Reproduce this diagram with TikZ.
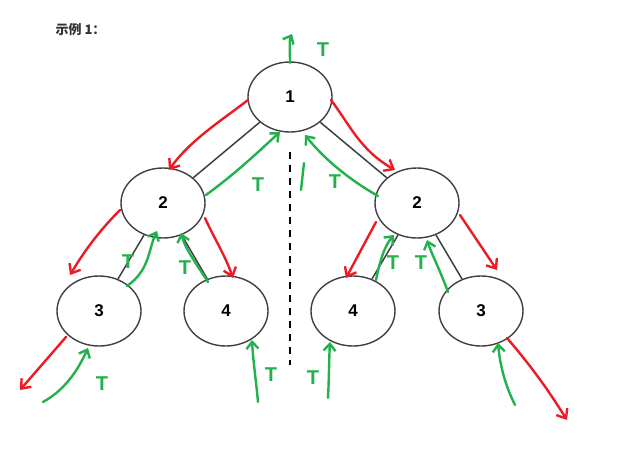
\documentclass[tikz,border=0pt]{standalone}
\usepackage{fontspec}
\setmainfont{Liberation Sans}
\newfontfamily\cjk{Noto Sans CJK SC}
\usetikzlibrary{arrows.meta,shapes.geometric}
\definecolor{gr}{RGB}{34,177,76}
\definecolor{rd}{RGB}{237,28,36}
\begin{document}
\begin{tikzpicture}[x=1pt,y=-1pt,
  nd/.style={draw=black!75,line width=1.4pt,ellipse,minimum width=84pt,minimum height=70pt,font=\bfseries\fontsize{17}{17}\selectfont},
  ed/.style={draw=black!75,line width=1.5pt},
  ga/.style={draw=gr,line width=2.4pt,line cap=round,-{Straight Barb[length=7pt,width=12pt]}},
  ra/.style={draw=rd,line width=2.4pt,line cap=round,-{Straight Barb[length=8pt,width=13pt]}},
  tl/.style={text=gr,font=\bfseries\fontsize{20}{20}\selectfont}]
\useasboundingbox (0,0) rectangle (640,453);
\node[anchor=west,font=\cjk\bfseries\fontsize{13}{13}\selectfont,text=black!80] (title) at (52,30) {示例 1：};
\node[nd] (r) at (290,97) {1};
\node[nd] (a) at (163,203) {2};
\node[nd] (b) at (417,203) {2};
\node[nd] (c) at (99,311) {3};
\node[nd] (d) at (226,311) {4};
\node[nd] (e) at (353,311) {4};
\node[nd] (f) at (481,311) {3};
\draw[ed] (r) -- (a);
\draw[ed] (r) -- (b);
\draw[ed] (a) -- (c);
\draw[ed] (a) -- (d);
\draw[ed] (b) -- (e);
\draw[ed] (b) -- (f);
\draw[black,line width=1.5pt,dash pattern=on 7pt off 6pt] (290,152) -- (290,365);
% red
\draw[ra] (248,100) .. controls (225,118) and (190,140) .. (169,170);
\draw[ra] (331,100) .. controls (350,125) and (360,150) .. (395,170);
\draw[ra] (120,210) .. controls (100,230) and (85,250) .. (70,275);
\draw[ra] (205,218) .. controls (215,240) and (225,255) .. (233,278);
\draw[ra] (376,222) -- (346,278);
\draw[ra] (460,215) -- (497,270);
\draw[ra] (66,337) -- (20,390);
\draw[ra] (507,338) .. controls (530,365) and (545,385) .. (567,420);
% green
\draw[ga] (290,63) .. controls (290,50) and (289,40) .. (292,34);
\node[tl] (t1) at (323,50) {T};
\draw[ga] (206,195) .. controls (240,170) and (260,150) .. (280,132);
\node[tl] (t2) at (258,185) {T};
\draw[ga] (378,196) .. controls (350,180) and (325,160) .. (305,135);
\draw[gr,line width=2.4pt,line cap=round] (301,190) -- (304,163);
\node[tl] (t3) at (335,182) {T};
\draw[ga] (127,286) .. controls (150,270) and (148,250) .. (157,231);
\node[tl] (t4) at (128,262) {T};
\draw[ga] (208,282) .. controls (195,262) and (185,248) .. (181,233);
\node[tl] (t5) at (185,268) {T};
\draw[ga] (43,402) .. controls (65,390) and (78,370) .. (88,348);
\node[tl] (t6) at (102,384) {T};
\draw[ga] (258,402) .. controls (256,380) and (253,360) .. (252,340);
\node[tl] (t7) at (271,375) {T};
\draw[ga] (328,398) .. controls (329,380) and (329,360) .. (330,342);
\node[tl] (t8) at (313,378) {T};
\draw[ga] (376,280) .. controls (380,260) and (385,245) .. (394,235);
\node[tl] (t9) at (393,263) {T};
\draw[ga] (448,292) .. controls (440,270) and (432,255) .. (427,240);
\node[tl] (t10) at (421,263) {T};
\draw[ga] (515,405) .. controls (505,385) and (500,365) .. (498,343);
\end{tikzpicture}
\end{document}
